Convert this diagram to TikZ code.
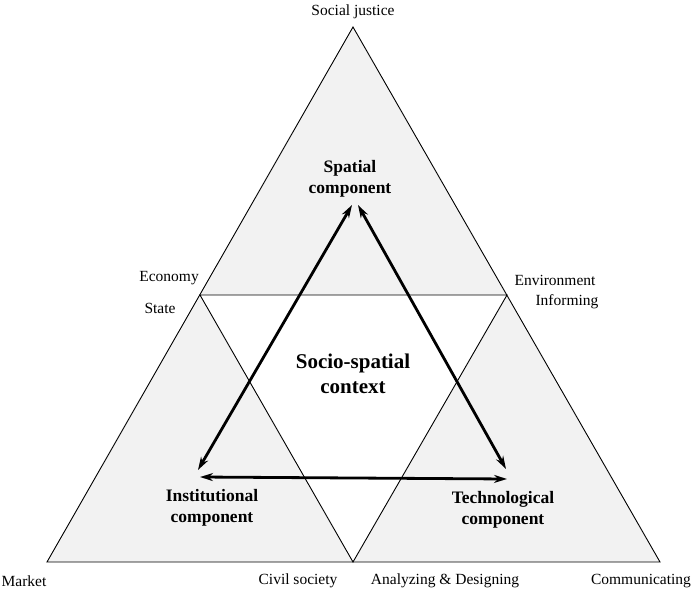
\documentclass[tikz,border=0pt]{standalone}
\usepackage{fontspec}
\setmainfont{Liberation Serif}
\usetikzlibrary{arrows.meta}
\begin{document}
\begin{tikzpicture}[x=1pt,y=-1pt,
  lab/.style={font=\fontsize{15.5}{18}\selectfont,inner sep=0},
  big/.style={font=\fontsize{17.5}{21}\selectfont\bfseries,align=center,inner sep=0},
  arr/.style={line width=2.8pt,{Stealth[length=13pt,width=8pt]}-{Stealth[length=13pt,width=8pt]}}]
\useasboundingbox (0,0) rectangle (697,594);
\coordinate (T) at (353,27); \coordinate (L) at (47,562); \coordinate (R) at (660,562);
\coordinate (ML) at (200,295); \coordinate (MR) at (507,295); \coordinate (MB) at (353,562);
\fill[gray!10] (T)--(L)--(R)--cycle;
\fill[white] (ML)--(MR)--(MB)--cycle;
\draw[line width=0.9pt] (T)--(L)--(R)--cycle;
\draw[line width=0.9pt] (ML)--(MR)--(MB)--cycle;
\node[lab] (sj) at (353,12) {Social justice};
\node[lab,anchor=east] (ec) at (199,278) {Economy};
\node[lab] (st) at (160,308) {State};
\node[lab] (en) at (555,280) {Environment};
\node[lab] (inf) at (567,302) {Informing};
\node[lab] (mk) at (24,581) {Market};
\node[lab] (cs) at (298,581) {Civil society};
\node[lab] (ad) at (445,581) {Analyzing \& Designing};
\node[lab] (cm) at (641,581) {Communicating};
\node[big] (sp) at (350,179) {Spatial\\component};
\node[big,font=\fontsize{21}{25}\selectfont\bfseries] (ctx) at (353,374) {Socio-spatial\\context};
\node[big] (ins) at (212,508) {Institutional\\component};
\node[big] (tec) at (503,510) {Technological\\component};
\coordinate (a1) at (352,205); \coordinate (a2) at (198,470);
\coordinate (b1) at (358,205); \coordinate (b2) at (506,469);
\coordinate (c1) at (200,477); \coordinate (c2) at (507,479);
\draw[arr] (a1)--(a2);
\draw[arr] (b1)--(b2);
\draw[arr] (c1)--(c2);
\end{tikzpicture}
\end{document}
